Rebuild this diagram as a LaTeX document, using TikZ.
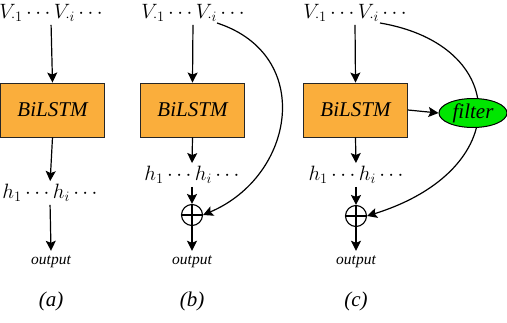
\documentclass[tikz,border=0pt]{standalone}
\usepackage[no-math]{fontspec}
\setmainfont{Liberation Serif}
\usetikzlibrary{arrows.meta,shapes.geometric}
\definecolor{boxorange}{RGB}{250,174,60}
\definecolor{filtergreen}{RGB}{0,230,0}
\begin{document}
\begin{tikzpicture}[x=1pt,y=-1pt,
  lstm/.style={draw=black!85, line width=0.9pt, fill=boxorange, minimum width=104pt, minimum height=54pt, inner sep=0pt, font=\fontsize{21}{25}\selectfont\itshape},
  seq/.style={inner sep=0pt, font=\fontsize{20}{24}\selectfont},
  outlbl/.style={inner xsep=0pt, inner ysep=5pt, font=\fontsize{15.5}{18}\selectfont\itshape},
  sublbl/.style={inner sep=0pt, font=\fontsize{21}{25}\selectfont\itshape},
  arr/.style={line width=1.2pt, -{Stealth[length=10pt,width=10pt,inset=2pt]}},
  plus/.style={circle, draw, line width=1.1pt, minimum size=21pt, inner sep=0pt},
  filt/.style={ellipse, draw, line width=1pt, fill=filtergreen, minimum width=68pt, minimum height=29pt, inner sep=0pt, font=\fontsize{21}{25}\selectfont\itshape}]
\useasboundingbox (0,0) rectangle (507,322);
% column a
\node[seq] (va) at (51,13) {$V_{\cdot 1}\cdots V_{\cdot i}\cdots$};
\node[lstm] (ba) at (52.5,110) {BiLSTM};
\node[seq] (ha) at (50,193) {$h_1\cdots h_i\cdots$};
\node[outlbl] (oa) at (51,262) {output};
\node[sublbl] (ca) at (51,301) {(a)};
\draw[arr, shorten <=3pt] (va.south) -- (ba.north);
\draw[arr, shorten >=3pt] (ba.south) -- (ha.north);
\draw[arr, shorten <=3pt] (ha.south) -- (oa.north);
% column b
\node[seq] (vb) at (193,13) {$V_{\cdot 1}\cdots V_{\cdot i}\cdots$};
\node[lstm] (bb) at (192.5,110) {BiLSTM};
\node[seq] (hb) at (192,175) {$h_1\cdots h_i\cdots$};
\node[plus] (pb) at (192,215) {};
\draw[line width=1.1pt] (pb.north) -- (pb.south) (pb.west) -- (pb.east);
\node[outlbl] (ob) at (192,262) {output};
\node[sublbl] (cb) at (192,301) {(b)};
\coordinate (sb) at (217,23);
\draw[arr, shorten <=3pt] (vb.south) -- (bb.north);
\draw[arr, shorten >=3pt] (bb.south) -- (hb.north);
\draw[arr, shorten <=3pt] (hb.south) -- (pb.north);
\draw[arr] (pb.south) -- (ob.north);
\draw[arr] (sb) .. controls (315,55) and (295,176) .. (pb.east);
% column c
\node[seq] (vc) at (355,13) {$V_{\cdot 1}\cdots V_{\cdot i}\cdots$};
\node[lstm] (bc) at (355.5,110) {BiLSTM};
\node[seq] (hc) at (356,175) {$h_1\cdots h_i\cdots$};
\node[plus] (pc) at (356,216) {};
\draw[line width=1.1pt] (pc.north) -- (pc.south) (pc.west) -- (pc.east);
\node[outlbl] (oc) at (356,262) {output};
\node[sublbl] (cc) at (356,301) {(c)};
\coordinate (sc) at (380,23);
\draw[arr, shorten <=3pt] (vc.south) -- (bc.north);
\draw[arr, shorten >=3pt] (bc.south) -- (hc.north);
\draw[arr, shorten <=3pt] (hc.south) -- (pc.north);
\draw[arr] (pc.south) -- (oc.north);
\draw[arr] (sc) .. controls (510,45) and (515,170) .. (pc.east);
\node[filt] (fc) at (473,113) {filter};
\draw[arr] (bc.east) -- (fc.west);
\end{tikzpicture}
\end{document}
